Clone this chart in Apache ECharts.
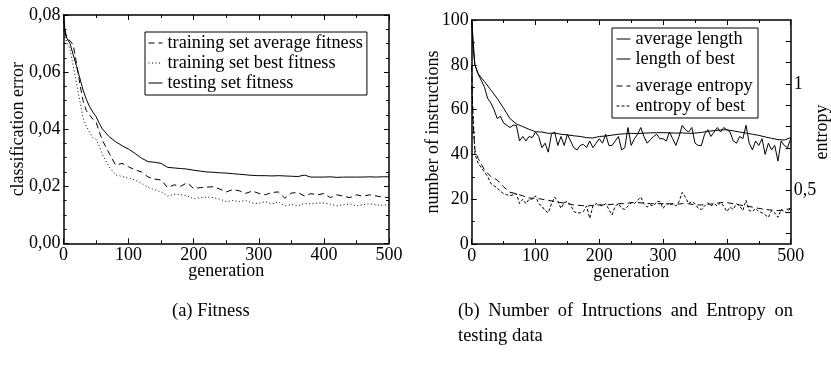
<!DOCTYPE html>
<html><head><meta charset="utf-8">
<script src="https://cdn.jsdelivr.net/npm/echarts@6/dist/echarts.min.js"></script>
<style>html,body{margin:0;padding:0;background:#fff}#c{width:831px;height:371px}</style>
</head><body><div id="c"></div>
<script>
// ---------- (a) Fitness ----------
const gensL = [0,3,6,10,15,20,25,30,35,40,45,50,55,60,70,80,90,100,110,120,130,140,150,160,170,180,190,200,210,220,230,240,250,260,270,280,290,300,310,320,330,340,350,360,370,380,390,400,410,420,430,440,450,460,470,480,490,500];
const trainAvgFitness = [0.078,0.074,0.0715,0.071,0.0695,0.063,0.056,0.050,0.0465,0.045,0.0435,0.0425,0.039,0.036,0.0316,0.0274,0.028,0.0268,0.0257,0.0250,0.0232,0.0225,0.0222,0.0195,0.0205,0.0200,0.0212,0.0192,0.0195,0.0197,0.0198,0.0190,0.0180,0.0188,0.0184,0.0175,0.0183,0.0175,0.0170,0.0178,0.0180,0.0158,0.0176,0.0178,0.0166,0.0174,0.0170,0.0174,0.0160,0.0170,0.0165,0.0160,0.0170,0.0165,0.0170,0.0166,0.0162,0.0160];
const trainBestFitness = [0.076,0.072,0.070,0.068,0.062,0.056,0.050,0.044,0.041,0.039,0.037,0.0365,0.034,0.031,0.0268,0.0240,0.0234,0.0228,0.0222,0.0210,0.0196,0.0188,0.0180,0.0165,0.0172,0.0170,0.0166,0.0156,0.0160,0.0162,0.0160,0.0155,0.0146,0.0150,0.0146,0.0150,0.0141,0.0140,0.0146,0.0138,0.0145,0.0131,0.0136,0.0131,0.0140,0.0138,0.0141,0.0141,0.0137,0.0131,0.0135,0.0138,0.0131,0.0135,0.0139,0.0135,0.0133,0.0135];
const testFitness = [0.080,0.073,0.0715,0.070,0.066,0.062,0.058,0.0537,0.0505,0.0479,0.046,0.0444,0.042,0.040,0.0374,0.0356,0.0342,0.0330,0.0315,0.0298,0.0286,0.0284,0.0280,0.0266,0.0264,0.0262,0.0260,0.0256,0.0253,0.0250,0.0249,0.0247,0.0246,0.0244,0.0242,0.0240,0.0238,0.0237,0.0237,0.0236,0.0237,0.0236,0.0235,0.0234,0.0239,0.0232,0.0232,0.0232,0.0233,0.0231,0.0232,0.0232,0.0232,0.0232,0.0233,0.0232,0.0233,0.0233];

// ---------- (b) Instructions & entropy ----------
const gensSmooth = [0,2,5,10,20,30,40,50,60,70,80,90,100,110,120,130,140,150,160,170,180,190,200,210,220,230,240,250,260,270,280,290,300,310,320,330,340,350,360,370,380,390,400,410,420,430,440,450,460,470,480,490,500];
const avgLength = [100,88,80,76,72.5,68.8,65,60.6,56,53.6,52.4,51.2,50.1,50,49.4,49.5,49,48.7,48.3,48,47.5,47.3,48,48.2,48.6,49,49.2,49.4,49.3,49.5,49.6,49.7,49.7,49.6,49.5,49.6,49.4,49.5,49.8,50.3,50.6,50.9,51,50.5,50,49.5,49,48.5,47.8,47.2,46.6,46.4,47.5];
const avgEntropy = [1.085,0.831,0.693,0.651,0.598,0.566,0.550,0.518,0.492,0.486,0.476,0.465,0.465,0.460,0.455,0.449,0.444,0.439,0.433,0.431,0.428,0.431,0.433,0.433,0.436,0.439,0.439,0.444,0.444,0.442,0.439,0.439,0.439,0.439,0.436,0.439,0.439,0.433,0.433,0.436,0.439,0.444,0.444,0.439,0.433,0.428,0.423,0.417,0.412,0.409,0.407,0.409,0.417];
const gens5 = [0,5,10,15,20,25,30,35,40,45,50,55,60,65,70,75,80,85,90,95,100,105,110,115,120,125,130,135,140,145,150,155,160,165,170,175,180,185,190,195,200,205,210,215,220,225,230,235,240,245,250,255,260,265,270,275,280,285,290,295,300,305,310,315,320,325,330,335,340,345,350,355,360,365,370,375,380,385,390,395,400,405,410,415,420,425,430,435,440,445,450,455,460,465,470,475,480,485,490,495,500];
const bestLength = [100,80,76,73,70,65,63,60,56,57,54,53,52,53,53,46,48,46,48,47.5,50,48,43,45,41,49,50,44,48,44,49,46,43,42,44,44.5,43,46,43,45,47,45,49,44,44,46,48,42,43,52,44,47,49,52,48,45,46.5,48,49,47,47,46,50,47,44,48,53,51,50,52,45,44,44,49,51,48,50,52,50,52,51,50,46,45,48,47,53,45,42,46,44,47,40,45,42,44,37,46,44,43,47];
const bestEntropy = [0.990,0.672,0.629,0.608,0.587,0.566,0.534,0.523,0.513,0.497,0.486,0.481,0.476,0.481,0.486,0.439,0.460,0.439,0.460,0.460,0.476,0.439,0.428,0.407,0.396,0.439,0.470,0.449,0.417,0.444,0.449,0.433,0.402,0.396,0.396,0.402,0.428,0.370,0.428,0.439,0.433,0.428,0.439,0.412,0.386,0.428,0.439,0.417,0.412,0.428,0.444,0.439,0.455,0.470,0.439,0.423,0.433,0.428,0.449,0.449,0.417,0.439,0.433,0.439,0.428,0.449,0.492,0.470,0.439,0.449,0.439,0.417,0.412,0.428,0.444,0.428,0.439,0.428,0.444,0.428,0.402,0.423,0.412,0.439,0.428,0.407,0.455,0.407,0.402,0.417,0.402,0.396,0.386,0.375,0.407,0.396,0.375,0.412,0.402,0.396,0.423];

const entropyLabels = [0.5, 1];
const entropyTicks = [0.3,0.4,0.5,0.6,0.7,0.8,0.9,1.0,1.1,1.2];
const captionA = '(a) Fitness';
const captionB1 = '(b) Number of Intructions and Entropy on';
const captionB2 = 'testing data';

const F = '"Liberation Serif","Times New Roman",serif';
const BLACK = '#000';
const pairs = (xs, ys) => xs.map((x, i) => [x, ys[i]]);

const tickStyle = {show:true, inside:true, length:5, lineStyle:{color:BLACK, width:1}};
const minor = n => ({show:true, splitNumber:n, length:3, lineStyle:{color:BLACK, width:1}});
const axisLine = {show:true, onZero:false, lineStyle:{color:BLACK, width:1.5}};
const lbl = {color:BLACK, fontFamily:F, fontSize:18, margin:3};
const nameStyle = {color:BLACK, fontFamily:F, fontSize:18};

function xA(grid, pos, labels) {
  return {type:'value', gridIndex:grid, position:pos, min:0, max:500, interval:100,
    axisLine, axisTick:tickStyle, minorTick:minor(2), splitLine:{show:false},
    axisLabel: labels ? lbl : {show:false},
    name: labels ? 'generation' : '', nameLocation:'middle', nameGap:19, nameMoveOverlap:false, nameTextStyle:nameStyle};
}

const line = (name, xs, ys, xi, yi, type) => ({
  name, type:'line', xAxisIndex:xi, yAxisIndex:yi, data:pairs(xs, ys),
  symbol:'circle', symbolSize:0, showSymbol:false, smooth:false, animation:false,
  lineStyle:{color:BLACK, width:1, type}, itemStyle:{color:BLACK}
});

const legendCommon = {
  orient:'vertical', selectedMode:false,
  itemWidth:14, itemHeight:11,
  itemStyle:{opacity:0, borderWidth:0, color:'rgba(0,0,0,0)'},
  lineStyle:{width:1},
  textStyle:{color:BLACK, fontFamily:F, fontSize:18.3, lineHeight:18}
};

// justified caption line (word positions spread between two x-limits)
const measureCtx = document.createElement('canvas').getContext('2d');
function justify(text, x0, x1, y, font) {
  measureCtx.font = font;
  const words = text.split(' ');
  const widths = words.map(w => measureCtx.measureText(w).width);
  const total = widths.reduce((a, b) => a + b, 0);
  const gap = (x1 - x0 - total) / (words.length - 1);
  let x = x0;
  return words.map((w, i) => {
    const el = {type:'text', x, y, style:{text:w, font, fill:BLACK, textVerticalAlign:'top'}};
    x += widths[i] + gap;
    return el;
  });
}
const capFont = '18.5px "Liberation Serif"';

const option = {
  backgroundColor:'#fff',
  animation:false,
  grid:[
    {left:63.5, top:15, width:325.5, height:228.3, outerBoundsMode:'none', containLabel:false},
    {left:471.7, top:20, width:319, height:224, outerBoundsMode:'none', containLabel:false}
  ],
  xAxis:[xA(0,'bottom',true), xA(0,'top',false), xA(1,'bottom',true), xA(1,'top',false)],
  yAxis:[
    {type:'value', gridIndex:0, position:'left', min:0, max:0.08, interval:0.02,
      axisLine, axisTick:tickStyle, minorTick:minor(4), splitLine:{show:false},
      axisLabel:{...lbl, formatter:v => v.toFixed(2).replace('.', ',')},
      name:'classification error', nameLocation:'middle', nameGap:36, nameMoveOverlap:false, nameRotate:90, nameTextStyle:nameStyle},
    {type:'value', gridIndex:0, position:'right', min:0, max:0.08, interval:0.02,
      axisLine, axisTick:tickStyle, minorTick:minor(4), splitLine:{show:false}, axisLabel:{show:false}},
    {type:'value', gridIndex:1, position:'left', min:0, max:100, interval:20,
      axisLine, axisTick:tickStyle, minorTick:minor(2), splitLine:{show:false},
      axisLabel:lbl,
      name:'number of instructions', nameLocation:'middle', nameGap:29, nameMoveOverlap:false, nameRotate:90, nameTextStyle:nameStyle},
    {type:'value', gridIndex:1, position:'right', min:0.25, max:1.3,
      axisLine, splitLine:{show:false},
      axisTick:{...tickStyle, customValues:entropyTicks},
      axisLabel:{...lbl, customValues:entropyLabels, formatter:v => String(+v.toFixed(2)).replace('.', ',')},
      name:'entropy', nameLocation:'middle', nameGap:23, nameMoveOverlap:false, nameRotate:90, nameTextStyle:nameStyle}
  ],
  legend:[
    {...legendCommon, data:['training set average fitness','training set best fitness','testing set fitness'],
      left:145, top:32, borderColor:BLACK, borderWidth:1, padding:[2,4,3,3], itemGap:2},
    {...legendCommon, data:['average length','length of best'], left:616, top:30, padding:0, itemGap:2},
    {...legendCommon, data:['average entropy','entropy of best'], left:616, top:77, padding:0, itemGap:2}
  ],
  graphic:[
    {type:'rect', shape:{x:612, y:28, width:146, height:90}, style:{fill:'none', stroke:BLACK, lineWidth:1}},
    {type:'text', x:172, y:302, style:{text:captionA, font:capFont, fill:BLACK, textVerticalAlign:'top'}},
    ...justify(captionB1, 458, 793, 302, capFont),
    {type:'text', x:458, y:327, style:{text:captionB2, font:capFont, fill:BLACK, textVerticalAlign:'top'}}
  ],
  series:[
    line('training set average fitness', gensL, trainAvgFitness, 0, 0, [6,4]),
    line('training set best fitness', gensL, trainBestFitness, 0, 0, [1,2.5]),
    line('testing set fitness', gensL, testFitness, 0, 0, 'solid'),
    line('average length', gensSmooth, avgLength, 2, 2, 'solid'),
    line('length of best', gens5, bestLength, 2, 2, 'solid'),
    line('average entropy', gensSmooth, avgEntropy, 2, 3, [6,4]),
    line('entropy of best', gens5, bestEntropy, 2, 3, [3,2])
  ]
};
const chart = echarts.init(document.getElementById('c'), null, {renderer:'canvas'});
chart.setOption(option);
</script>
</body></html>
